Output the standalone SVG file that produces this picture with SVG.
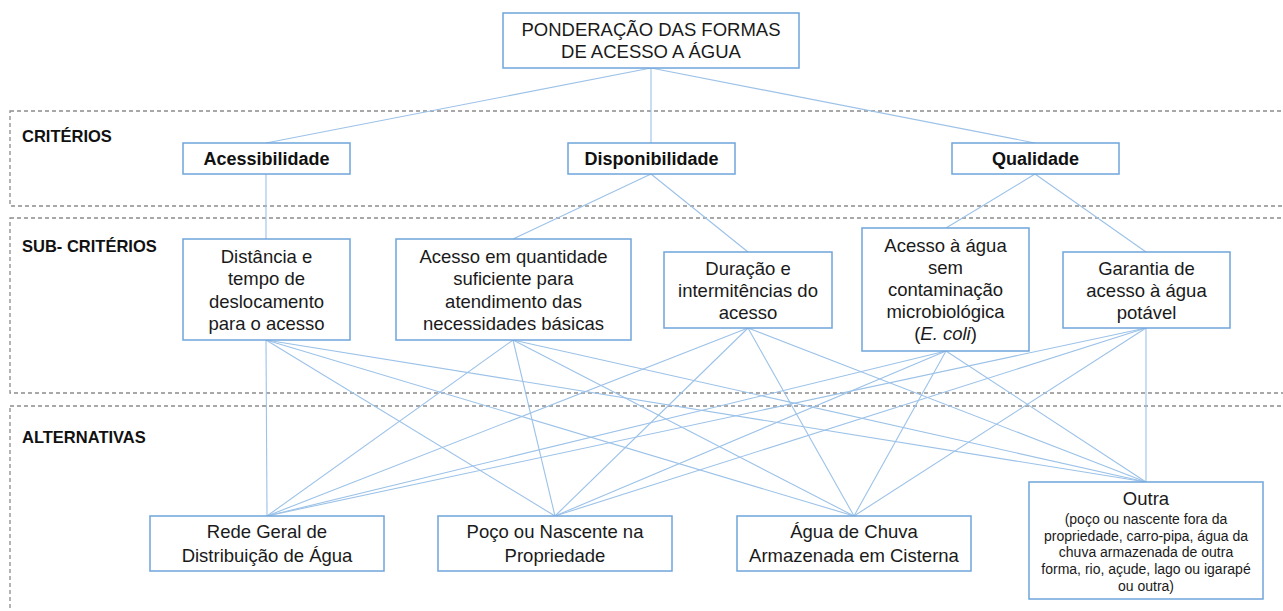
<svg xmlns="http://www.w3.org/2000/svg" width="1283" height="611" viewBox="0 0 1283 611">
<style>
.sec{fill:none;stroke:#8c8c8c;stroke-width:1.3;stroke-dasharray:4 3}
.box{fill:#fff;stroke:#6fa5dc;stroke-width:1.5}
.ln{stroke:#9cc2e8;stroke-width:1.1;fill:none}
.t{font-family:"Liberation Sans",Arial,sans-serif;font-size:18.5px;fill:#1a1a1a;text-anchor:middle}
.b{font-family:"Liberation Sans",Arial,sans-serif;font-size:18px;font-weight:bold;fill:#111;text-anchor:middle}
.s{font-family:"Liberation Sans",Arial,sans-serif;font-size:14px;fill:#1a1a1a;text-anchor:middle}
.lab{font-family:"Liberation Sans",Arial,sans-serif;font-size:16.5px;font-weight:bold;fill:#111}
</style>
<rect width="1283" height="611" fill="#fff"/>
<g id="sections">
<rect class="sec" x="10" y="111" width="1285" height="95"/>
<rect class="sec" x="10" y="218" width="1285" height="175"/>
<rect class="sec" x="10" y="406" width="1285" height="230"/>
<text class="lab" x="22" y="142">CRITÉRIOS</text>
<text class="lab" x="22" y="252">SUB- CRITÉRIOS</text>
<text class="lab" x="22" y="443">ALTERNATIVAS</text>
</g>
<g id="connectors">
<line class="ln" x1="651" y1="68" x2="266" y2="143"/>
<line class="ln" x1="651" y1="68" x2="651" y2="143"/>
<line class="ln" x1="651" y1="68" x2="1035" y2="143"/>
<line class="ln" x1="266" y1="174" x2="266" y2="239"/>
<line class="ln" x1="651" y1="174" x2="513" y2="239"/>
<line class="ln" x1="651" y1="174" x2="748" y2="252"/>
<line class="ln" x1="1035" y1="174" x2="946" y2="228"/>
<line class="ln" x1="1035" y1="174" x2="1146" y2="252"/>
<line class="ln" x1="266" y1="340" x2="267" y2="516"/>
<line class="ln" x1="266" y1="340" x2="555" y2="516"/>
<line class="ln" x1="266" y1="340" x2="854" y2="516"/>
<line class="ln" x1="266" y1="340" x2="1146" y2="482"/>
<line class="ln" x1="513" y1="340" x2="267" y2="516"/>
<line class="ln" x1="513" y1="340" x2="555" y2="516"/>
<line class="ln" x1="513" y1="340" x2="854" y2="516"/>
<line class="ln" x1="513" y1="340" x2="1146" y2="482"/>
<line class="ln" x1="748" y1="328" x2="267" y2="516"/>
<line class="ln" x1="748" y1="328" x2="555" y2="516"/>
<line class="ln" x1="748" y1="328" x2="854" y2="516"/>
<line class="ln" x1="748" y1="328" x2="1146" y2="482"/>
<line class="ln" x1="946" y1="351" x2="267" y2="516"/>
<line class="ln" x1="946" y1="351" x2="555" y2="516"/>
<line class="ln" x1="946" y1="351" x2="854" y2="516"/>
<line class="ln" x1="946" y1="351" x2="1146" y2="482"/>
<line class="ln" x1="1146" y1="328" x2="267" y2="516"/>
<line class="ln" x1="1146" y1="328" x2="555" y2="516"/>
<line class="ln" x1="1146" y1="328" x2="854" y2="516"/>
<line class="ln" x1="1146" y1="328" x2="1146" y2="482"/>
</g>
<g id="goal">
<rect class="box" x="503" y="13" width="296" height="55"/>
<text class="t" x="651" y="36">PONDERAÇÃO DAS FORMAS</text>
<text class="t" x="651" y="58">DE ACESSO A ÁGUA</text>
</g>
<g id="c-acessibilidade">
<rect class="box" x="183" y="143" width="167" height="31"/>
<text class="b" x="266.5" y="165">Acessibilidade</text>
</g>
<g id="c-disponibilidade">
<rect class="box" x="568" y="143" width="167" height="31"/>
<text class="b" x="651.5" y="165">Disponibilidade</text>
</g>
<g id="c-qualidade">
<rect class="box" x="952" y="143" width="167" height="31"/>
<text class="b" x="1035.5" y="165">Qualidade</text>
</g>
<g id="s-distancia">
<rect class="box" x="183" y="239" width="167" height="101"/>
<text class="t" x="266.5" y="263">Distância e</text>
<text class="t" x="266.5" y="285">tempo de</text>
<text class="t" x="266.5" y="308">deslocamento</text>
<text class="t" x="266.5" y="330">para o acesso</text>
</g>
<g id="s-quantidade">
<rect class="box" x="396" y="239" width="235" height="101"/>
<text class="t" x="513.5" y="263">Acesso em quantidade</text>
<text class="t" x="513.5" y="285">suficiente para</text>
<text class="t" x="513.5" y="308">atendimento das</text>
<text class="t" x="513.5" y="330">necessidades básicas</text>
</g>
<g id="s-duracao">
<rect class="box" x="664" y="252" width="168" height="76"/>
<text class="t" x="748" y="275">Duração e</text>
<text class="t" x="748" y="297">intermitências do</text>
<text class="t" x="748" y="319">acesso</text>
</g>
<g id="s-contaminacao">
<rect class="box" x="862" y="228" width="167" height="123"/>
<text class="t" x="945.5" y="252">Acesso à água</text>
<text class="t" x="945.5" y="274">sem</text>
<text class="t" x="945.5" y="296">contaminação</text>
<text class="t" x="945.5" y="318">microbiológica</text>
<text class="t" x="945.5" y="340">(<tspan font-style="italic">E. coli</tspan>)</text>
</g>
<g id="s-potavel">
<rect class="box" x="1063" y="252" width="167" height="76"/>
<text class="t" x="1146.5" y="275">Garantia de</text>
<text class="t" x="1146.5" y="297">acesso à água</text>
<text class="t" x="1146.5" y="319">potável</text>
</g>
<g id="a-rede">
<rect class="box" x="150" y="516" width="234" height="55"/>
<text class="t" x="267" y="538">Rede Geral de</text>
<text class="t" x="267" y="562">Distribuição de Água</text>
</g>
<g id="a-poco">
<rect class="box" x="438" y="516" width="234" height="55"/>
<text class="t" x="555" y="538">Poço ou Nascente na</text>
<text class="t" x="555" y="562">Propriedade</text>
</g>
<g id="a-chuva">
<rect class="box" x="737" y="516" width="234" height="55"/>
<text class="t" x="854" y="538">Água de Chuva</text>
<text class="t" x="854" y="562">Armazenada em Cisterna</text>
</g>
<g id="a-outra">
<rect class="box" x="1029" y="482" width="234" height="117"/>
<text class="t" x="1146" y="505">Outra</text>
<text class="s" x="1146" y="524">(poço ou nascente fora da</text>
<text class="s" x="1146" y="541">propriedade, carro-pipa, água da</text>
<text class="s" x="1146" y="557">chuva armazenada de outra</text>
<text class="s" x="1146" y="574">forma, rio, açude, lago ou igarapé</text>
<text class="s" x="1146" y="591">ou outra)</text>
</g>
</svg>
